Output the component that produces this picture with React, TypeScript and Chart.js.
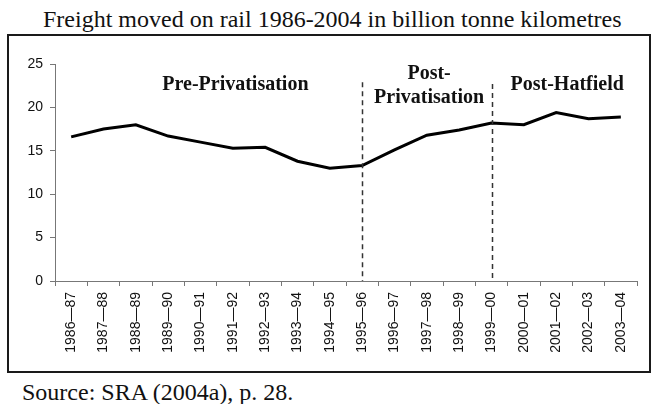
import React, { useEffect, useRef } from "react";
import { Chart, registerables } from "chart.js";

Chart.register(...registerables);

// Financial years shown on the category axis
const years: string[] = [
  "1986—87", "1987—88", "1988—89", "1989—90", "1990—91", "1991—92",
  "1992—93", "1993—94", "1994—95", "1995—96", "1996—97", "1997—98",
  "1998—99", "1999—00", "2000—01", "2001—02", "2002—03", "2003—04",
];

// Freight moved, billion tonne kilometres
const freight: number[] = [
  16.6, 17.5, 18.0, 16.7, 16.0, 15.3, 15.4, 13.8, 13.0,
  13.3, 15.1, 16.8, 17.4, 18.2, 18.0, 19.4, 18.7, 18.9,
];

// Period boundaries (category index) and the height where each dashed line starts
const dividerIndex: number[] = [9, 13];
const dividerTop: number[] = [22.9, 22.7];

// Period captions: text lines, category position, value position
const captionLines: string[][] = [["Pre-Privatisation"], ["Post-", "Privatisation"], ["Post-Hatfield"]];
const captionX: number[] = [5.08, 11.07, 15.34];
const captionY: number[][] = [[22.58], [23.9, 21.12], [22.58]];

const periodPlugin = {
  id: "periods",
  afterDatasetsDraw(chart: any) {
    const { ctx, scales } = chart;
    const xs = scales.x;
    const ys = scales.y;
    ctx.save();
    ctx.strokeStyle = "#333";
    ctx.lineWidth = 1.5;
    ctx.setLineDash([5, 4]);
    dividerIndex.forEach((idx, i) => {
      const x = Math.round(xs.getPixelForValue(idx)) + 0.5;
      ctx.beginPath();
      ctx.moveTo(x, ys.getPixelForValue(dividerTop[i]));
      ctx.lineTo(x, ys.getPixelForValue(0));
      ctx.stroke();
    });
    ctx.setLineDash([]);
    ctx.fillStyle = "#111";
    ctx.font = "bold 20px 'Liberation Serif', 'Times New Roman', serif";
    ctx.textAlign = "center";
    ctx.textBaseline = "middle";
    captionLines.forEach((lines, i) => {
      const x = xs.getPixelForValue(captionX[i]);
      lines.forEach((t, j) => {
        ctx.fillText(t, x, ys.getPixelForValue(captionY[i][j]));
      });
    });
    ctx.restore();
  },
};

export default function App() {
  const canvasRef = useRef<HTMLCanvasElement | null>(null);

  useEffect(() => {
    if (!canvasRef.current) return;
    const tickFont = { family: "'Liberation Sans', Arial, sans-serif", size: 14 };
    const chart = new Chart(canvasRef.current, {
      type: "line",
      data: {
        labels: years,
        datasets: [
          {
            data: freight,
            borderColor: "#000",
            borderWidth: 3,
            pointRadius: 0,
            tension: 0,
            fill: false,
          },
        ],
      },
      options: {
        responsive: false,
        animation: false,
        devicePixelRatio: 1,
        layout: { padding: { top: 28, right: 12, left: 0, bottom: 0 } },
        plugins: { legend: { display: false }, tooltip: { enabled: false }, title: { display: false } },
        scales: {
          x: {
            type: "category",
            offset: true,
            grid: { offset: true, drawOnChartArea: false, drawTicks: true, tickLength: 5, color: "#777" },
            border: { color: "#777", width: 1 },
            ticks: {
              minRotation: 90,
              maxRotation: 90,
              autoSkip: false,
              padding: 6,
              color: "#111",
              font: tickFont,
            },
            afterFit: (s: any) => {
              s.height = 90;
            },
          },
          y: {
            min: 0,
            max: 25,
            grid: { drawOnChartArea: false, drawTicks: true, tickLength: 5, color: "#777" },
            border: { color: "#777", width: 1 },
            ticks: { stepSize: 5, padding: 7, color: "#111", font: tickFont },
            afterFit: (s: any) => {
              s.width = 46;
            },
          },
        },
      },
      plugins: [periodPlugin],
    });
    return () => chart.destroy();
  }, []);

  return (
    <div
      style={{
        position: "absolute",
        left: 0,
        top: 0,
        width: 655,
        height: 404,
        background: "#fff",
        fontFamily: "'Liberation Serif', 'Times New Roman', serif",
        color: "#111",
        overflow: "hidden",
      }}
    >
      <div
        style={{
          position: "absolute",
          left: 43,
          top: 7,
          whiteSpace: "nowrap",
          fontSize: 24,
          lineHeight: "24px",
        }}
      >
        Freight moved on rail 1986-2004 in billion tonne kilometres
      </div>
      <div
        style={{
          position: "absolute",
          left: 7,
          top: 34,
          width: 644,
          height: 339,
          boxSizing: "border-box",
          border: "2px solid #1a1a1a",
        }}
      >
        <canvas ref={canvasRef} width={640} height={335} style={{ display: "block" }} />
      </div>
      <div
        style={{
          position: "absolute",
          left: 22,
          top: 380,
          whiteSpace: "nowrap",
          fontSize: 24,
          lineHeight: "24px",
        }}
      >
        Source: SRA (2004a), p. 28.
      </div>
    </div>
  );
}
